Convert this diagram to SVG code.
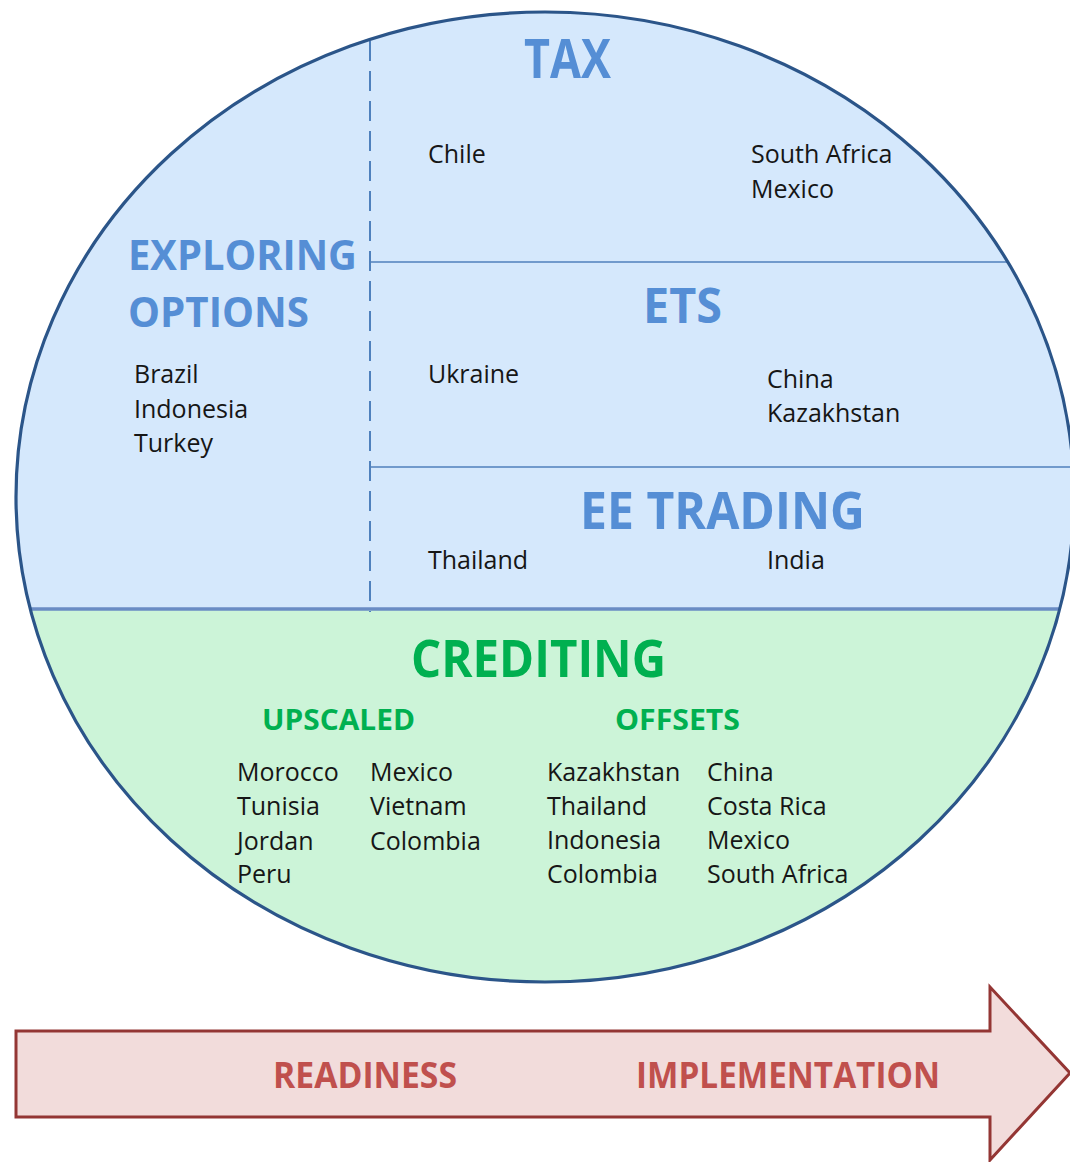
<svg xmlns="http://www.w3.org/2000/svg" width="1070" height="1162" viewBox="0 0 1070 1162">
  <defs>
    <clipPath id="ell">
      <ellipse cx="545" cy="497" rx="529" ry="485"/>
    </clipPath>
    <style>
      .title { font-family: "Open Sans", "Liberation Sans", sans-serif; font-weight: 700; }
      .blue { fill: #558ed5; }
      .green { fill: #00b050; }
      .red { fill: #c0504d; }
      .body { font-family: "Open Sans", "Liberation Sans", sans-serif; font-size: 25px; fill: #161616; }
      .thin { stroke: #4f81bd; stroke-width: 1.5; fill: none; }
      .dash { stroke: #4f81bd; stroke-width: 2; stroke-dasharray: 20 10; fill: none; }
    </style>
  </defs>
  <rect width="1070" height="1162" fill="#ffffff"/>

  <g id="background" clip-path="url(#ell)">
    <rect x="0" y="0" width="1070" height="609" fill="#d5e8fc"/>
    <rect x="0" y="609" width="1070" height="400" fill="#ccf4d8"/>
  </g>

  <g id="connectors" clip-path="url(#ell)">
    <line class="dash" x1="370" y1="41" x2="370" y2="612"/>
    <line class="thin" x1="370" y1="262" x2="1070" y2="262"/>
    <line class="thin" x1="370" y1="467" x2="1070" y2="467"/>
    <line x1="0" y1="609" x2="1070" y2="609" stroke="#6a8cc4" stroke-width="3.5"/>
  </g>

  <ellipse id="outline" cx="545" cy="497" rx="529" ry="485" fill="none" stroke="#2b5589" stroke-width="3.2"/>

  <g id="tax">
    <text class="title blue" x="524" y="78" font-size="53" textLength="87" lengthAdjust="spacingAndGlyphs">TAX</text>
    <text class="body" x="428" y="163">Chile</text>
    <text class="body" x="751" y="163">South Africa</text>
    <text class="body" x="751" y="198">Mexico</text>
  </g>

  <g id="exploring">
    <text class="title blue" x="128" y="270" font-size="42" textLength="229" lengthAdjust="spacingAndGlyphs">EXPLORING</text>
    <text class="title blue" x="128" y="327" font-size="42" textLength="181" lengthAdjust="spacingAndGlyphs">OPTIONS</text>
    <text class="body" x="134" y="383">Brazil</text>
    <text class="body" x="134" y="418">Indonesia</text>
    <text class="body" x="134" y="452">Turkey</text>
  </g>

  <g id="ets">
    <text class="title blue" x="643" y="323" font-size="49" textLength="79" lengthAdjust="spacingAndGlyphs">ETS</text>
    <text class="body" x="428" y="383">Ukraine</text>
    <text class="body" x="767" y="388">China</text>
    <text class="body" x="767" y="422">Kazakhstan</text>
  </g>

  <g id="ee-trading">
    <text class="title blue" x="580" y="529" font-size="52" textLength="285" lengthAdjust="spacingAndGlyphs">EE TRADING</text>
    <text class="body" x="428" y="569">Thailand</text>
    <text class="body" x="767" y="569">India</text>
  </g>

  <g id="crediting">
    <text class="title green" x="411" y="677" font-size="52" textLength="255" lengthAdjust="spacingAndGlyphs">CREDITING</text>
    <text class="title green" x="262" y="730" font-size="28" textLength="153" lengthAdjust="spacingAndGlyphs">UPSCALED</text>
    <text class="title green" x="615" y="730" font-size="28" textLength="125" lengthAdjust="spacingAndGlyphs">OFFSETS</text>
    <text class="body" x="237" y="781">Morocco</text>
    <text class="body" x="237" y="815">Tunisia</text>
    <text class="body" x="237" y="850">Jordan</text>
    <text class="body" x="237" y="883">Peru</text>
    <text class="body" x="370" y="781">Mexico</text>
    <text class="body" x="370" y="815">Vietnam</text>
    <text class="body" x="370" y="850">Colombia</text>
    <text class="body" x="547" y="781">Kazakhstan</text>
    <text class="body" x="547" y="815">Thailand</text>
    <text class="body" x="547" y="849">Indonesia</text>
    <text class="body" x="547" y="883">Colombia</text>
    <text class="body" x="707" y="781">China</text>
    <text class="body" x="707" y="815">Costa Rica</text>
    <text class="body" x="707" y="849">Mexico</text>
    <text class="body" x="707" y="883">South Africa</text>
  </g>

  <g id="progress-arrow">
    <polygon points="16,1031 990,1031 990,987 1070,1073 990,1160 990,1117 16,1117" fill="#f2dcdb" stroke="#943634" stroke-width="3" stroke-linejoin="miter"/>
    <text class="title red" x="273" y="1088" font-size="35" textLength="184" lengthAdjust="spacingAndGlyphs">READINESS</text>
    <text class="title red" x="636" y="1088" font-size="35" textLength="304" lengthAdjust="spacingAndGlyphs">IMPLEMENTATION</text>
  </g>
</svg>
